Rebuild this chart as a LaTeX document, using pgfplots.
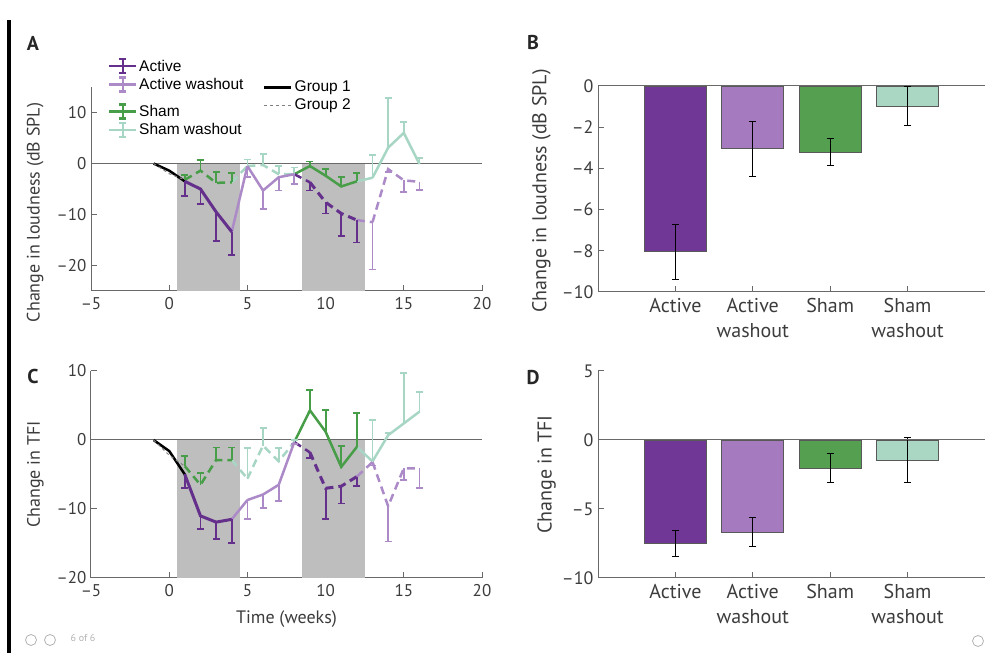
\documentclass[border=0pt]{standalone}
\usepackage{pgfplots}
\pgfplotsset{compat=1.18}
\usepackage{fontspec}
\setmainfont{PT Sans}
\newfontfamily\legfont{Liberation Sans}
\definecolor{actC}{RGB}{100,48,140}
\definecolor{awC}{RGB}{172,138,200}
\definecolor{shC}{RGB}{72,158,72}
\definecolor{swC}{RGB}{168,214,196}
\definecolor{barA}{RGB}{112,55,150}
\definecolor{barAW}{RGB}{165,122,190}
\definecolor{barS}{RGB}{85,160,80}
\definecolor{barSW}{RGB}{170,215,195}
\definecolor{axC}{RGB}{105,105,105}
\definecolor{txC}{RGB}{60,60,60}
\definecolor{shadeC}{RGB}{190,190,190}
\pgfplotsset{
  base/.style={scale only axis, anchor=south west, axis x line*=bottom, axis y line*=left,
    axis line style={axC, line width=1pt}, every tick/.style={axC, line width=1pt},
    major tick length=6pt, tick align=inside,
    tick label style={font=\fontsize{17}{20}\selectfont, text=txC},
    xticklabel style={yshift=-3pt}, yticklabel style={xshift=-1pt},
    label style={font=\fontsize{18}{21}\selectfont, text=txC}, clip=false},
  barax/.style={tick label style={font=\fontsize{18}{21}\selectfont},
    label style={font=\fontsize{20}{23}\selectfont}},
  ser/.style={line width=2.5pt, mark=none},
  g2/.style={dash pattern=on 8pt off 5pt},
  eb/.style={error bars/y explicit, error bars/y dir=#1, error bars/error mark=-,
    error bars/error bar style={solid, line width=1.8pt},
    error bars/error mark options={rotate=90, solid, line width=1.8pt, mark size=3.5pt}},
  beb/.style={error bars/y explicit, error bars/y dir=both, error bars/error mark=-,
    error bars/error bar style={black, line width=1pt},
    error bars/error mark options={rotate=90, black, line width=1pt, mark size=3.5pt}},
  bars/.style={ybar, bar width=0.8, bar shift=0pt, draw=black!65, line width=0.7pt},
  errleg/.style={legend image code/.code={
    \draw[##1, solid] (0pt,0pt) -- (27pt,0pt);
    \draw[##1, solid] (13.5pt,-7pt) -- (13.5pt,7pt);
    \draw[##1, solid] (10pt,7pt) -- (17pt,7pt);
    \draw[##1, solid] (10pt,-7pt) -- (17pt,-7pt);}},
  lineleg/.style={legend image code/.code={\draw[##1] (0pt,0pt) -- (27pt,0pt);}},
  legax/.style={anchor=south west, scale only axis, hide axis, xmin=0, xmax=1, ymin=0, ymax=1,
    legend cell align=left,
    legend style={anchor=west, draw=none, fill=none, inner sep=0pt, row sep=1.5pt,
      font=\legfont\fontsize{15.5}{18}\selectfont}},
}
\begin{document}
\begin{tikzpicture}
\useasboundingbox (0pt,0pt) rectangle (989pt,653pt);
\draw[black, line width=4pt] (9pt,0pt) -- (9pt,633pt);

% ---------------- Panel A ----------------
\begin{axis}[base, at={(91pt,362pt)}, width=391pt, height=204pt,
  xmin=-5, xmax=20, ymin=-25, ymax=15,
  xtick={-5,0,5,10,15,20}, xticklabels={–5,0,5,10,15,20},
  ytick={-20,-10,0,10}, yticklabels={–20,–10,0,10},
  ylabel={Change in loudness (dB SPL)},
  ylabel style={at={(axis description cs:-0.112,0.385)}, anchor=south}]
\fill[shadeC] (axis cs:0.5,-25) rectangle (axis cs:4.5,0);
\fill[shadeC] (axis cs:8.5,-25) rectangle (axis cs:12.5,0);
\draw[axC, line width=1pt] (axis cs:-5,0) -- (axis cs:20,0);
% baselines
\addplot[black, line width=2.5pt] coordinates {(-1,0) (0,-1.4) (1,-3.5)};
\addplot[gray, line width=1pt, dashed] coordinates {(-1,0) (0,-2.0) (1,-3.2)};
% connectors
\addplot[swC, ser] coordinates {(12,-3.5) (13,-2.8)};
\addplot[swC, ser, g2] coordinates {(4,-3.7) (5,-0.5)};
\addplot[awC, ser] coordinates {(4,-13.4) (5,-0.5)};
\addplot[awC, ser, g2] coordinates {(12,-11.1) (13,-11.5)};
\addplot[shC, ser] coordinates {(8,-2.1) (9,-0.5)};
\addplot[actC, ser, g2] coordinates {(8,-2.1) (9,-3.7)};
% sham washout
\addplot[swC, ser, eb=plus] table[row sep=\\, y error index=2] {x y e\\ 13 -2.8 4.4\\ 14 3.1 9.8\\ 15 6.0 2.1\\ 16 -0.1 1.1\\};
\addplot[swC, ser, g2, eb=plus] table[row sep=\\, y error index=2] {x y e\\ 5 -0.5 1.3\\ 6 -0.3 2.2\\ 7 -2.1 1.6\\ 8 -2.1 1.3\\};
% active washout
\addplot[awC, ser, eb=minus] table[row sep=\\, y error index=2] {x y e\\ 5 -0.5 2.2\\ 6 -5.3 3.6\\ 7 -2.7 2.6\\ 8 -2.1 1.9\\};
\addplot[awC, ser, g2, eb=minus] table[row sep=\\, y error index=2] {x y e\\ 13 -11.5 9.3\\ 14 -1.1 0.5\\ 15 -3.3 2.3\\ 16 -3.6 1.6\\};
% sham
\addplot[shC, ser, eb=plus] table[row sep=\\, y error index=2] {x y e\\ 9 -0.5 0.9\\ 10 -2.4 1.3\\ 11 -4.5 1.8\\ 12 -3.5 1.6\\};
\addplot[shC, ser, g2, eb=plus] table[row sep=\\, y error index=2] {x y e\\ 1 -3.2 1.0\\ 2 -1.4 2.1\\ 3 -3.8 2.1\\ 4 -3.7 1.8\\};
% active
\addplot[actC, ser, line width=3pt, eb=minus] table[row sep=\\, y error index=2] {x y e\\ 1 -3.5 2.9\\ 2 -5.0 2.9\\ 3 -9.5 5.7\\ 4 -13.4 4.5\\};
\addplot[actC, ser, line width=3pt, g2, eb=minus] table[row sep=\\, y error index=2] {x y e\\ 9 -3.7 1.6\\ 10 -7.6 2.2\\ 11 -9.8 4.4\\ 12 -11.1 4.4\\};
\end{axis}

% legends for panel A
\begin{axis}[legax, at={(91pt,362pt)}, width=391pt, height=204pt,
  legend style={at={(axis description cs:0.043,1.057)}}]
\addlegendimage{errleg, actC, line width=2.2pt}
\addlegendentry{Active}
\addlegendimage{errleg, awC, line width=2.2pt}
\addlegendentry{Active washout}
\end{axis}
\begin{axis}[legax, at={(91pt,362pt)}, width=391pt, height=204pt,
  legend style={at={(axis description cs:0.043,0.835)}}]
\addlegendimage{errleg, shC, line width=2.2pt}
\addlegendentry{Sham}
\addlegendimage{errleg, swC, line width=2.2pt}
\addlegendentry{Sham washout}
\end{axis}
\begin{axis}[legax, at={(91pt,362pt)}, width=391pt, height=204pt,
  legend style={at={(axis description cs:0.44,0.955)}}]
\addlegendimage{lineleg, black, line width=2.5pt}
\addlegendentry{Group 1}
\addlegendimage{lineleg, gray, line width=1pt, dashed}
\addlegendentry{Group 2}
\end{axis}

% ---------------- Panel C ----------------
\begin{axis}[base, at={(91pt,75pt)}, width=391pt, height=207pt,
  xmin=-5, xmax=20, ymin=-20, ymax=10,
  xtick={-5,0,5,10,15,20}, xticklabels={–5,0,5,10,15,20},
  ytick={-20,-10,0,10}, yticklabels={–20,–10,0,10},
  ylabel={Change in TFI}, xlabel={Time (weeks)},
  ylabel style={at={(axis description cs:-0.112,0.5)}, anchor=south},
  xlabel style={at={(axis description cs:0.5,-0.2)}, anchor=center}]
\fill[shadeC] (axis cs:0.5,-20) rectangle (axis cs:4.5,0);
\fill[shadeC] (axis cs:8.5,-20) rectangle (axis cs:12.5,0);
\draw[axC, line width=1pt] (axis cs:-5,0) -- (axis cs:20,0);
\addplot[black, line width=2.5pt] coordinates {(-1,0) (0,-1.6) (1,-5.0)};
\addplot[gray, line width=1pt, dashed] coordinates {(-1,0) (0,-2.2) (1,-3.8)};
% connectors
\addplot[swC, ser] coordinates {(12,-1.0) (13,-3.1)};
\addplot[swC, ser, g2] coordinates {(4,-2.9) (5,-5.6)};
\addplot[awC, ser] coordinates {(4,-11.5) (5,-8.7)};
\addplot[awC, ser, g2] coordinates {(12,-5.3) (13,-3.2)};
\addplot[shC, ser] coordinates {(8,-0.3) (9,4.3)};
\addplot[actC, ser, g2] coordinates {(8,-0.3) (9,-1.8)};
% sham washout
\addplot[swC, ser, eb=plus] table[row sep=\\, y error index=2] {x y e\\ 13 -3.1 6.0\\ 14 0.7 0.3\\ 15 2.4 7.3\\ 16 4.1 2.8\\};
\addplot[swC, ser, g2, eb=plus] table[row sep=\\, y error index=2] {x y e\\ 5 -5.6 4.4\\ 6 -0.8 2.5\\ 7 -3.1 1.9\\ 8 -0.3 0.3\\};
% active washout
\addplot[awC, ser, eb=minus] table[row sep=\\, y error index=2] {x y e\\ 5 -8.7 2.7\\ 6 -7.9 2.0\\ 7 -6.5 2.3\\ 8 -0.3 0.3\\};
\addplot[awC, ser, g2, eb=minus] table[row sep=\\, y error index=2] {x y e\\ 13 -3.2 0.5\\ 14 -9.6 5.1\\ 15 -4.1 1.7\\ 16 -4.1 2.9\\};
% sham
\addplot[shC, ser, eb=plus] table[row sep=\\, y error index=2] {x y e\\ 9 4.3 3.0\\ 10 1.2 3.2\\ 11 -3.9 3.0\\ 12 -1.0 4.9\\};
\addplot[shC, ser, g2, eb=plus] table[row sep=\\, y error index=2] {x y e\\ 1 -3.8 1.5\\ 2 -6.5 1.7\\ 3 -2.9 1.8\\ 4 -2.9 1.8\\};
% active
\addplot[actC, ser, line width=3pt, eb=minus] table[row sep=\\, y error index=2] {x y e\\ 1 -5.0 2.0\\ 2 -11.0 1.9\\ 3 -11.9 2.4\\ 4 -11.5 3.4\\};
\addplot[actC, ser, line width=3pt, g2, eb=minus] table[row sep=\\, y error index=2] {x y e\\ 9 -1.8 0.8\\ 10 -7.0 4.4\\ 11 -6.7 2.5\\ 12 -5.3 1.4\\};
\end{axis}

% ---------------- Panel B ----------------
\begin{axis}[base, barax, at={(598pt,361pt)}, width=387pt, height=206pt,
  xmin=0, xmax=5, ymin=-10, ymax=0,
  xtick={1,2,3,4}, xticklabels={Active,{Active\\washout},Sham,{Sham\\washout}},
  xticklabel style={align=center, font=\fontsize{20}{25}\selectfont},
  ytick={-10,-8,-6,-4,-2,0}, yticklabels={–10,–8,–6,–4,–2,0},
  ylabel={Change in loudness (dB SPL)},
  ylabel style={at={(axis description cs:-0.113,0.49)}, anchor=south}]
\addplot[bars, fill=barA, beb] coordinates {(1,-8.05) +- (0,1.35)};
\addplot[bars, fill=barAW, beb] coordinates {(2,-3.05) +- (0,1.33)};
\addplot[bars, fill=barS, beb] coordinates {(3,-3.2) +- (0,0.65)};
\addplot[bars, fill=barSW, beb] coordinates {(4,-0.97) +- (0,0.93)};
\draw[axC, line width=1pt] (axis cs:0,0) -- (axis cs:5,0);
\end{axis}

% ---------------- Panel D ----------------
\begin{axis}[base, barax, at={(598pt,75pt)}, width=387pt, height=207pt,
  xmin=0, xmax=5, ymin=-10, ymax=5,
  xtick={1,2,3,4}, xticklabels={Active,{Active\\washout},Sham,{Sham\\washout}},
  xticklabel style={align=center, font=\fontsize{20}{25}\selectfont},
  ytick={-10,-5,0,5}, yticklabels={–10,–5,0,5},
  ylabel={Change in TFI},
  ylabel style={at={(axis description cs:-0.1,0.5)}, anchor=south}]
\addplot[bars, fill=barA, beb] coordinates {(1,-7.52) +- (0,0.95)};
\addplot[bars, fill=barAW, beb] coordinates {(2,-6.67) +- (0,1.05)};
\addplot[bars, fill=barS, beb] coordinates {(3,-2.05) +- (0,1.06)};
\addplot[bars, fill=barSW, beb] coordinates {(4,-1.45) +- (0,1.6)};
\draw[axC, line width=1pt] (axis cs:0,0) -- (axis cs:5,0);
\end{axis}

% panel letters
\node[font=\bfseries\fontsize{20}{20}\selectfont, text=black!85] at (33pt,610pt) {A};
\node[font=\bfseries\fontsize{20}{20}\selectfont, text=black!85] at (533pt,610pt) {B};
\node[font=\bfseries\fontsize{20}{20}\selectfont, text=black!85] at (33pt,276pt) {C};
\node[font=\bfseries\fontsize{20}{20}\selectfont, text=black!85] at (533pt,275pt) {D};

% viewer decorations
\draw[gray!60, line width=0.8pt] (31pt,13pt) circle (5.5pt);
\draw[gray!60, line width=0.8pt] (50pt,13pt) circle (5.5pt);
\node[font=\fontsize{10}{12}\selectfont, text=gray!60] at (83pt,15pt) {6 of 6};
\draw[gray!60, line width=0.8pt] (978pt,12pt) circle (5.5pt);
\end{tikzpicture}
\end{document}
